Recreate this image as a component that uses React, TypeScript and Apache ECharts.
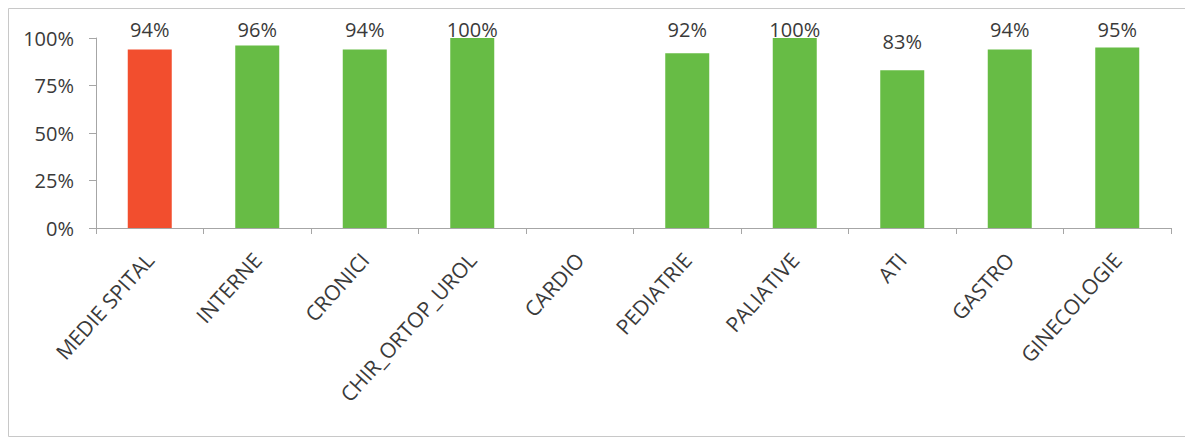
import React, { useEffect, useRef } from "react";
import * as echarts from "echarts";

const categories = [
  "MEDIE SPITAL",
  "INTERNE",
  "CRONICI",
  "CHIR_ORTOP_UROL",
  "CARDIO",
  "PEDIATRIE",
  "PALIATIVE",
  "ATI",
  "GASTRO",
  "GINECOLOGIE",
];
const values: (number | null)[] = [94, 96, 94, 100, null, 92, 100, 83, 94, 95];
const yTicks = [0, 25, 50, 75, 100];

const RED = "#F24E2E";
const GREEN = "#67BC45";
const TEXT = "#3A3A3A";
const FONT = "'Open Sans', sans-serif";

const W = 1185;
const H = 439;
const GRID = { left: 96, right: 14, top: 38, bottom: 211 };

export default function App() {
  const ref = useRef<HTMLDivElement>(null);
  useEffect(() => {
    document.body.style.margin = "0";
    if (!ref.current) return;
    const chart = echarts.init(ref.current, null, { renderer: "svg" });
    const plotH = H - GRID.top - GRID.bottom;
    const yMax = yTicks[yTicks.length - 1];
    const pxPerUnit = plotH / yMax;
    const data = values.map((v, i) => {
      if (v == null) return { value: "-" };
      // label sits ~19px above bar, but is kept inside the chart's top limit
      const barTopFromTop = (yMax - v) * pxPerUnit;
      const dist = Math.min(19, barTopFromTop - 1);
      return {
        value: v,
        itemStyle: { color: i === 0 ? RED : GREEN },
        label: { distance: dist },
      };
    });
    chart.setOption({
      animation: false,
      backgroundColor: "#ffffff",
      textStyle: { fontFamily: FONT },
      graphic: [
        {
          type: "rect",
          shape: { x: 8.5, y: 8.5, width: 1180, height: 428 },
          style: { fill: "none", stroke: "#C8C8C8", lineWidth: 1 },
          silent: true,
        },
      ],
      grid: { ...GRID, containLabel: false },
      xAxis: {
        type: "category",
        data: categories,
        boundaryGap: true,
        axisLine: { show: true, lineStyle: { color: "#A6A6A6", width: 1 } },
        axisTick: { show: true, length: 6, alignWithLabel: false, lineStyle: { color: "#A6A6A6" } },
        axisLabel: {
          interval: 0,
          rotate: 48,
          margin: 28,
          color: TEXT,
          fontSize: 21,
          fontFamily: FONT,
        },
        splitLine: { show: false },
      },
      yAxis: {
        type: "value",
        min: 0,
        max: yMax,
        interval: 25,
        axisLine: { show: true, lineStyle: { color: "#A6A6A6", width: 1 } },
        axisTick: { show: true, length: 7, lineStyle: { color: "#A6A6A6" } },
        axisLabel: {
          formatter: "{value}%",
          margin: 22,
          color: TEXT,
          fontSize: 20,
          fontFamily: FONT,
        },
        splitLine: { show: false },
      },
      series: [
        {
          type: "bar",
          data,
          barWidth: 44,
          label: {
            show: true,
            position: "top",
            formatter: "{c}%",
            color: TEXT,
            fontSize: 20,
            fontFamily: FONT,
          },
        },
      ],
    });
    return () => chart.dispose();
  }, []);
  return <div ref={ref} style={{ width: W, height: H }} />;
}
